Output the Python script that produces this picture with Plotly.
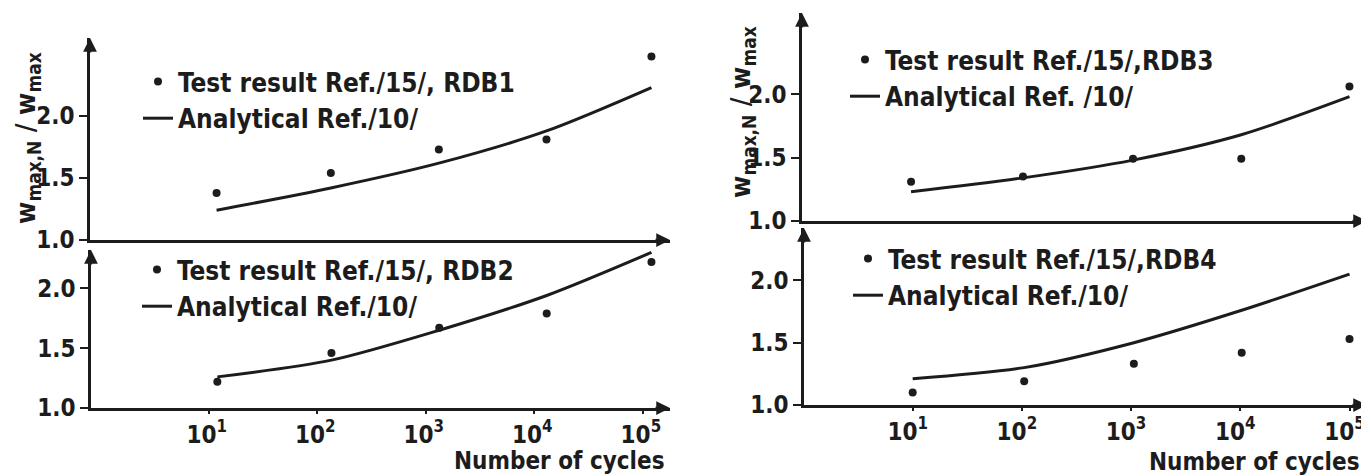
import plotly.graph_objects as go

# ---------------- data ----------------
cycles_left = [12, 135, 1330, 13000, 120000]
cycles_right = [10, 105, 1060, 10300, 100000]

rdb1_test = [1.38, 1.54, 1.73, 1.81, 2.48]
rdb1_analytical = [1.24, 1.42, 1.62, 1.88, 2.23]
rdb2_test = [1.22, 1.46, 1.67, 1.79, 2.22]
rdb2_analytical = [1.26, 1.40, 1.65, 1.94, 2.30]
rdb3_test = [1.31, 1.35, 1.49, 1.49, 2.06]
rdb3_analytical = [1.23, 1.34, 1.48, 1.68, 1.98]
rdb4_test = [1.10, 1.19, 1.33, 1.42, 1.53]
rdb4_analytical = [1.21, 1.30, 1.50, 1.76, 2.05]

test_labels = ["Test result Ref./15/, RDB1", "Test result Ref./15/, RDB2",
               "Test result Ref./15/,RDB3", "Test result Ref./15/,RDB4"]
analytical_labels = ["Analytical Ref./10/", "Analytical Ref./10/",
                     "Analytical Ref. /10/", "Analytical Ref./10/"]

y_tick_vals = [1.0, 1.5, 2.0]
y_tick_text = ["1.0", "1.5", "2.0"]
x_tick_vals = [10, 100, 1000, 10000, 100000]
x_tick_text = ["10<sup>1</sup>", "10<sup>2</sup>", "10<sup>3</sup>",
               "10<sup>4</sup>", "10<sup>5</sup>"]
y_title = "w<sub>max,N</sub> / w<sub>max</sub>"
x_title = "Number of cycles"

# ---------------- style ----------------
PAGE_W, PAGE_H = 1369, 475
OFF = 8                      # default body margin of the html page
W, H = PAGE_W - OFF, PAGE_H - OFF
INK = "#1c1c1c"
FONT = "DejaVu Sans Condensed, Liberation Sans Narrow, Liberation Sans, sans-serif"


def fnt(size):
    return dict(size=size, family=FONT, color=INK, weight="bold")


def px(v):
    return (v - OFF) / W


def py(v):
    return 1 - (v - OFF) / H


# panel geometry (page pixels): x0, x1, ybottom, ytop, xrange(log), yrange
panels = [
    dict(x0=90, x1=670, yb=240, yt=38, xr=[-0.085, 5.25], yr=[1.0, 2.63],
         cyc=cycles_left, test=rdb1_test, ana=rdb1_analytical, bottom=False,
         shift=-2),
    dict(x0=91, x1=670, yb=408, yt=250, xr=[-0.085, 5.25], yr=[1.0, 2.32],
         cyc=cycles_left, test=rdb2_test, ana=rdb2_analytical, bottom=True,
         shift=-2),
    dict(x0=802, x1=1367, yb=221, yt=13, xr=[0.005, 5.16], yr=[1.0, 2.64],
         cyc=cycles_right, test=rdb3_test, ana=rdb3_analytical, bottom=False,
         shift=-5),
    dict(x0=804, x1=1367, yb=405, yt=228, xr=[0.005, 5.16], yr=[1.0, 2.42],
         cyc=cycles_right, test=rdb4_test, ana=rdb4_analytical, bottom=True,
         shift=-5),
]
# legend top-left corners (page pixels)
legend_pos = [(138, 58), (137, 246), (845, 36), (848, 235)]
# y-axis titles: centre (page pixels)
y_title_pos = [(27, 138), (742, 112)]

fig = go.Figure()
layout = dict(
    width=W, height=H, margin=dict(l=0, r=0, t=0, b=0, autoexpand=False),
    paper_bgcolor="white", plot_bgcolor="white",
    font=fnt(24), showlegend=True,
)
annotations = []

for i, p in enumerate(panels):
    n = i + 1
    sfx = "" if n == 1 else str(n)
    xa, ya = "x" + sfx, "y" + sfx
    lg = "legend" if n == 1 else "legend" + str(n)

    fig.add_trace(go.Scatter(
        x=p["cyc"], y=p["test"], mode="markers", name=test_labels[i],
        marker=dict(size=8, color=INK), xaxis=xa, yaxis=ya, legend=lg,
        cliponaxis=False))
    fig.add_trace(go.Scatter(
        x=p["cyc"], y=p["ana"], mode="lines", name=analytical_labels[i],
        line=dict(color=INK, width=3, shape="spline", smoothing=0.8),
        xaxis=xa, yaxis=ya, legend=lg, cliponaxis=False))

    layout["xaxis" + sfx] = dict(
        type="log", range=p["xr"], domain=[px(p["x0"]), px(p["x1"])],
        anchor=ya, automargin=False, showgrid=False, zeroline=False,
        showline=True, linecolor=INK, linewidth=2.5,
        tickvals=x_tick_vals if p["bottom"] else None,
        ticktext=x_tick_text if p["bottom"] else None,
        showticklabels=p["bottom"], ticks="outside" if p["bottom"] else "",
        ticklen=3, tickwidth=1.5, tickcolor=INK, tickfont=fnt(24),
        ticklabeloverflow="allow", ticklabelshift=p["shift"],
    )
    layout["yaxis" + sfx] = dict(
        range=p["yr"], domain=[py(p["yb"]), py(p["yt"])], anchor=xa,
        automargin=False, showgrid=False, zeroline=False, showline=True,
        linecolor=INK, linewidth=2.5, tickvals=y_tick_vals,
        ticktext=y_tick_text, ticks="outside", ticklen=8, tickwidth=1.5,
        tickcolor=INK, tickfont=fnt(24),
    )

    lx, ly = legend_pos[i]
    layout[lg] = dict(
        x=px(lx), y=py(ly), xanchor="left", yanchor="top",
        bgcolor="rgba(0,0,0,0)", borderwidth=0, itemwidth=30,
        font=fnt(26), tracegroupgap=0,
        itemclick=False, itemdoubleclick=False,
    )

    # arrow heads at the axis ends
    annotations.append(dict(
        x=0, y=1, xref=xa + " domain", yref=ya + " domain", text="",
        showarrow=True, ax=0, ay=16, arrowhead=2, arrowsize=1.1,
        arrowwidth=2.5, arrowcolor=INK, standoff=0))
    annotations.append(dict(
        x=1, y=0, xref=xa + " domain", yref=ya + " domain", text="",
        showarrow=True, ax=-16, ay=0, arrowhead=2, arrowsize=1.1,
        arrowwidth=2.5, arrowcolor=INK, standoff=0))

for tx, ty in y_title_pos:
    annotations.append(dict(
        x=px(tx), y=py(ty), xref="paper", yref="paper", text=y_title,
        textangle=-90, showarrow=False, xanchor="center", yanchor="middle",
        font=fnt(27)))

annotations.append(dict(
    x=px(667), y=py(461), xref="paper", yref="paper", text=x_title,
    showarrow=False, xanchor="right", yanchor="middle", font=fnt(24)))
annotations.append(dict(
    x=px(1362), y=py(462), xref="paper", yref="paper", text=x_title,
    showarrow=False, xanchor="right", yanchor="middle", font=fnt(24)))

layout["annotations"] = annotations
fig.update_layout(**layout)
fig.write_html("out.html")
